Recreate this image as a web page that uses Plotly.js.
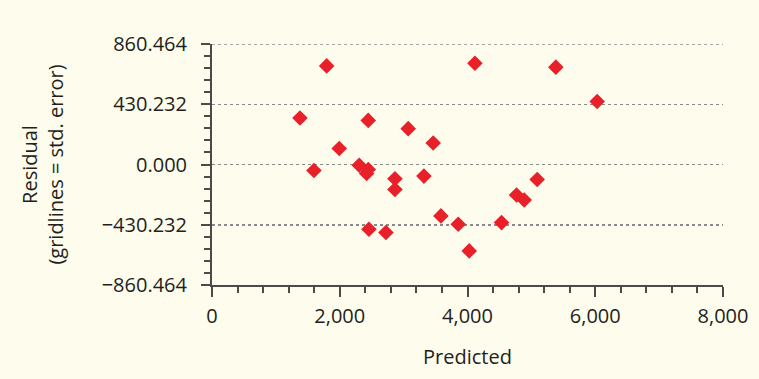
<!DOCTYPE html>
<html>
<head>
<meta charset="utf-8">
<script src="https://cdn.plot.ly/plotly-3.0.1.min.js"></script>
<style>html,body{margin:0;padding:0;background:#fefcec;}#chart{width:759px;height:379px;}</style>
</head>
<body>
<div id="chart"></div>
<script>
// Data
const predicted = [1377, 1596, 1795, 1992, 2305, 2446, 2421, 2446, 2457, 2723, 2864, 2864, 3072, 3318, 3463, 3584, 3855, 4027, 4116, 4533, 4768, 4888, 5091, 5383, 6030];
const residual  = [332, -43, 704, 114, -5, -36, -64, 315, -462, -486, -102, -178, 256, -83, 154, -367, -427, -617, 723, -415, -218, -254, -107, 695, 450];

const xTickVals = [0, 2000, 4000, 6000, 8000];
const xTickText = ['0', '2,000', '4,000', '6,000', '8,000'];
const yTickVals = [-860.464, -430.232, 0, 430.232, 860.464];
const yTickText = ['\u2212860.464', '\u2212430.232', '0.000', '430.232', '860.464'];

const font = 'Open Sans, Noto Sans, sans-serif';
const ink = '#231f20';
const axisCol = '#4a4a4a';
const gridCol = '#8a8a8a';
const fs = 20;

const trace = {
  x: predicted, y: residual, type: 'scatter', mode: 'markers',
  marker: {symbol: 'diamond', size: 12, color: '#e8202a', line: {width: 0}},
  hoverinfo: 'x+y', cliponaxis: false
};

const yMax = yTickVals[yTickVals.length - 1];

const layout = {
  width: 759, height: 379,
  margin: {l: 212, r: 36, t: 44, b: 94},
  paper_bgcolor: '#fefcec', plot_bgcolor: '#fefcec',
  showlegend: false,
  font: {family: font, size: fs, color: ink},
  xaxis: {
    range: [0, 8000], tickmode: 'array', tickvals: xTickVals, ticktext: xTickText,
    showgrid: false, zeroline: false, showline: true, linecolor: axisCol, linewidth: 2,
    ticks: 'outside', ticklen: 10, tickwidth: 2, tickcolor: axisCol,
    minor: {tickmode: 'linear', tick0: 0, dtick: 400, ticks: 'outside', ticklen: 6, tickwidth: 2, tickcolor: axisCol, showgrid: false},
    tickfont: {family: font, size: fs, color: ink},
    ticklabelstandoff: 2,
    title: {text: 'Predicted', font: {family: font, size: fs, color: ink}, standoff: 22},
    fixedrange: true
  },
  yaxis: {
    range: [yTickVals[0], yMax], tickmode: 'array', tickvals: yTickVals, ticktext: yTickText,
    showgrid: true, gridcolor: gridCol, griddash: 'dot', gridwidth: 1.5,
    zeroline: false, showline: true, linecolor: axisCol, linewidth: 2,
    ticks: 'outside', ticklen: 9, tickwidth: 2, tickcolor: axisCol,
    minor: {tickmode: 'linear', tick0: 0, dtick: 86.0464, ticks: 'outside', ticklen: 6, tickwidth: 2, tickcolor: axisCol, showgrid: false},
    tickfont: {family: font, size: fs, color: ink},
    ticklabelstandoff: 10,
    title: {text: 'Residual<br>(gridlines = std. error)', font: {family: font, size: fs, color: ink}, standoff: 33},
    fixedrange: true
  },
  // top gridline (Plotly skips the grid line that sits on the range edge)
  shapes: [{type: 'line', xref: 'paper', yref: 'y', x0: 0, x1: 1, y0: yMax, y1: yMax,
            line: {color: gridCol, width: 1.5, dash: 'dot'}, layer: 'below'}]
};

Plotly.newPlot('chart', [trace], layout, {displayModeBar: false, staticPlot: true});
</script>
</body>
</html>
